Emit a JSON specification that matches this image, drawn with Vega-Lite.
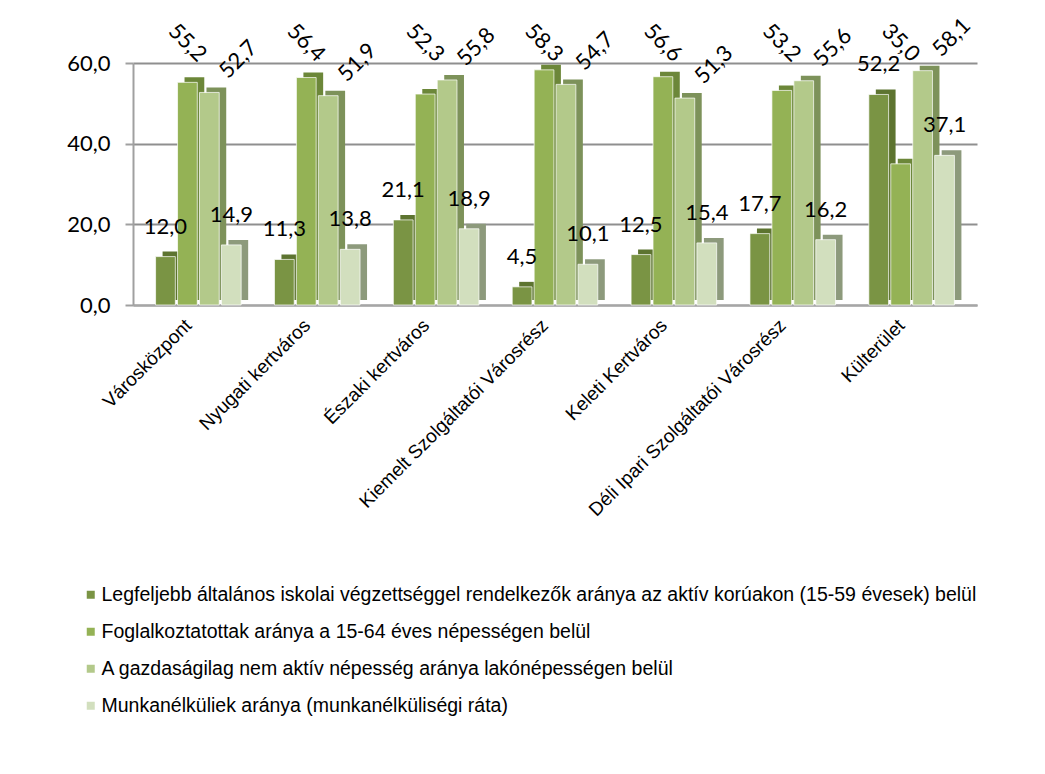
{
  "$schema": "https://vega.github.io/schema/vega-lite/v6.json",
  "autosize": "none",
  "width": 844,
  "height": 242,
  "padding": {"left": 133, "top": 63, "right": 68, "bottom": 469},
  "background": "white",
  "config": {
    "locale": {"number": {"decimal": ",", "thousands": " ", "grouping": [3], "currency": ["", " Ft"]}},
    "view": {"stroke": null},
    "font": "Lato"
  },
  "data": {
    "values": [
      {"district": "Városközpont", "series": "Legfeljebb általános iskolai végzettséggel rendelkezők aránya az aktív korúakon (15-59 évesek) belül", "value": 12.0},
      {"district": "Nyugati kertváros", "series": "Legfeljebb általános iskolai végzettséggel rendelkezők aránya az aktív korúakon (15-59 évesek) belül", "value": 11.3},
      {"district": "Északi kertváros", "series": "Legfeljebb általános iskolai végzettséggel rendelkezők aránya az aktív korúakon (15-59 évesek) belül", "value": 21.1},
      {"district": "Kiemelt Szolgáltatói Városrész", "series": "Legfeljebb általános iskolai végzettséggel rendelkezők aránya az aktív korúakon (15-59 évesek) belül", "value": 4.5},
      {"district": "Keleti Kertváros", "series": "Legfeljebb általános iskolai végzettséggel rendelkezők aránya az aktív korúakon (15-59 évesek) belül", "value": 12.5},
      {"district": "Déli Ipari Szolgáltatói Városrész", "series": "Legfeljebb általános iskolai végzettséggel rendelkezők aránya az aktív korúakon (15-59 évesek) belül", "value": 17.7},
      {"district": "Külterület", "series": "Legfeljebb általános iskolai végzettséggel rendelkezők aránya az aktív korúakon (15-59 évesek) belül", "value": 52.2},
      {"district": "Városközpont", "series": "Foglalkoztatottak aránya a 15-64 éves népességen belül", "value": 55.2},
      {"district": "Nyugati kertváros", "series": "Foglalkoztatottak aránya a 15-64 éves népességen belül", "value": 56.4},
      {"district": "Északi kertváros", "series": "Foglalkoztatottak aránya a 15-64 éves népességen belül", "value": 52.3},
      {"district": "Kiemelt Szolgáltatói Városrész", "series": "Foglalkoztatottak aránya a 15-64 éves népességen belül", "value": 58.3},
      {"district": "Keleti Kertváros", "series": "Foglalkoztatottak aránya a 15-64 éves népességen belül", "value": 56.6},
      {"district": "Déli Ipari Szolgáltatói Városrész", "series": "Foglalkoztatottak aránya a 15-64 éves népességen belül", "value": 53.2},
      {"district": "Külterület", "series": "Foglalkoztatottak aránya a 15-64 éves népességen belül", "value": 35.0},
      {"district": "Városközpont", "series": "A gazdaságilag nem aktív népesség aránya lakónépességen belül", "value": 52.7},
      {"district": "Nyugati kertváros", "series": "A gazdaságilag nem aktív népesség aránya lakónépességen belül", "value": 51.9},
      {"district": "Északi kertváros", "series": "A gazdaságilag nem aktív népesség aránya lakónépességen belül", "value": 55.8},
      {"district": "Kiemelt Szolgáltatói Városrész", "series": "A gazdaságilag nem aktív népesség aránya lakónépességen belül", "value": 54.7},
      {"district": "Keleti Kertváros", "series": "A gazdaságilag nem aktív népesség aránya lakónépességen belül", "value": 51.3},
      {"district": "Déli Ipari Szolgáltatói Városrész", "series": "A gazdaságilag nem aktív népesség aránya lakónépességen belül", "value": 55.6},
      {"district": "Külterület", "series": "A gazdaságilag nem aktív népesség aránya lakónépességen belül", "value": 58.1},
      {"district": "Városközpont", "series": "Munkanélküliek aránya (munkanélküliségi ráta)", "value": 14.9},
      {"district": "Nyugati kertváros", "series": "Munkanélküliek aránya (munkanélküliségi ráta)", "value": 13.8},
      {"district": "Északi kertváros", "series": "Munkanélküliek aránya (munkanélküliségi ráta)", "value": 18.9},
      {"district": "Kiemelt Szolgáltatói Városrész", "series": "Munkanélküliek aránya (munkanélküliségi ráta)", "value": 10.1},
      {"district": "Keleti Kertváros", "series": "Munkanélküliek aránya (munkanélküliségi ráta)", "value": 15.4},
      {"district": "Déli Ipari Szolgáltatói Városrész", "series": "Munkanélküliek aránya (munkanélküliségi ráta)", "value": 16.2},
      {"district": "Külterület", "series": "Munkanélküliek aránya (munkanélküliségi ráta)", "value": 37.1}
    ]
  },
  "encoding": {
    "xOffset": {
      "field": "series",
      "type": "nominal",
      "sort": null,
      "scale": {
        "domain": [
          "Legfeljebb általános iskolai végzettséggel rendelkezők aránya az aktív korúakon (15-59 évesek) belül",
          "Foglalkoztatottak aránya a 15-64 éves népességen belül",
          "A gazdaságilag nem aktív népesség aránya lakónépességen belül",
          "Munkanélküliek aránya (munkanélküliségi ráta)"
        ],
        "paddingInner": 0.1,
        "paddingOuter": 0
      }
    },
    "y": {
      "field": "value",
      "type": "quantitative",
      "title": null,
      "scale": {"domain": [0, 60], "nice": false},
      "axis": {
        "values": [0, 20, 40, 60],
        "format": ".1f",
        "labelFont": "Lato",
        "labelFontSize": 22,
        "labelColor": "#000000",
        "labelPadding": 15,
        "tickSize": 8,
        "tickColor": "#a0a0a0",
        "tickWidth": 2,
        "domainColor": "#a0a0a0",
        "domainWidth": 2,
        "grid": true,
        "gridColor": "#8f8f8f",
        "gridWidth": 2
      }
    }
  },
  "resolve": {"scale": {"x": "independent", "color": "independent"}, "axis": {"x": "independent"}},
  "layer": [
    {
      "mark": {"type": "bar", "yOffset": -5},
      "encoding": {
        "x": {
          "field": "district",
          "type": "nominal",
          "sort": null,
          "title": null,
          "scale": {"paddingInner": 0.28, "paddingOuter": 0.19, "align": 0.655},
          "axis": null
        },
        "color": {
          "field": "series",
          "type": "nominal",
          "sort": null,
          "legend": null,
          "scale": {
            "domain": [
              "Legfeljebb általános iskolai végzettséggel rendelkezők aránya az aktív korúakon (15-59 évesek) belül",
              "Foglalkoztatottak aránya a 15-64 éves népességen belül",
              "A gazdaságilag nem aktív népesség aránya lakónépességen belül",
              "Munkanélküliek aránya (munkanélküliségi ráta)"
            ],
            "range": ["#5d7430", "#6c8739", "#7d925a", "#8d9a7c"]
          }
        }
      }
    },
    {
      "mark": {"type": "bar", "stroke": "#ffffff", "strokeWidth": 1, "strokeOpacity": 0.7},
      "encoding": {
        "x": {
          "field": "district",
          "type": "nominal",
          "sort": null,
          "title": null,
          "scale": {"paddingInner": 0.28, "paddingOuter": 0.19},
          "axis": {
            "labelAngle": -45,
            "labelFont": "Liberation Sans",
            "labelFontSize": 19,
            "labelColor": "#000000",
            "labelBaseline": "middle",
            "labelPadding": 17,
            "labelOffset": -10,
            "labelLimit": 0,
            "ticks": false,
            "domainColor": "#a6a6a6",
            "domainWidth": 2,
            "grid": false
          }
        },
        "color": {
          "field": "series",
          "type": "nominal",
          "sort": null,
          "scale": {
            "domain": [
              "Legfeljebb általános iskolai végzettséggel rendelkezők aránya az aktív korúakon (15-59 évesek) belül",
              "Foglalkoztatottak aránya a 15-64 éves népességen belül",
              "A gazdaságilag nem aktív népesség aránya lakónépességen belül",
              "Munkanélküliek aránya (munkanélküliségi ráta)"
            ],
            "range": ["#7a9444", "#94b255", "#b3c98a", "#d2dfbe"]
          },
          "legend": {
            "title": null,
            "orient": "none",
            "legendX": -52,
            "legendY": 522,
            "direction": "vertical",
            "symbolType": "square",
            "symbolSize": 64,
            "symbolStrokeWidth": 0,
            "labelFont": "Liberation Sans",
            "labelFontSize": 19.5,
            "labelColor": "#000000",
            "labelLimit": 0,
            "labelOffset": 1,
            "rowPadding": 16
          }
        }
      }
    },
    {
      "transform": [{"filter": {"field": "series", "oneOf": ["Legfeljebb általános iskolai végzettséggel rendelkezők aránya az aktív korúakon (15-59 évesek) belül", "Munkanélküliek aránya (munkanélküliségi ráta)"]}}],
      "mark": {"type": "text", "align": "center", "baseline": "middle", "dy": -30, "fontSize": 22, "font": "Lato", "color": "#000000"},
      "encoding": {
        "x": {"field": "district", "type": "nominal", "sort": null, "title": null, "scale": {"paddingInner": 0.28, "paddingOuter": 0.19}, "axis": null},
        "text": {"field": "value", "type": "quantitative", "format": ".1f"}
      }
    },
    {
      "transform": [{"filter": {"field": "series", "equal": "Foglalkoztatottak aránya a 15-64 éves népességen belül"}}],
      "mark": {"type": "text", "align": "center", "baseline": "middle", "angle": 45, "fontSize": 22, "font": "Lato", "color": "#000000"},
      "encoding": {
        "x": {"field": "district", "type": "nominal", "sort": null, "title": null, "scale": {"paddingInner": 0.28, "paddingOuter": 0.19}, "axis": null},
        "y": {"datum": 65, "type": "quantitative"},
        "text": {"field": "value", "type": "quantitative", "format": ".1f"}
      }
    },
    {
      "transform": [{"filter": {"field": "series", "equal": "A gazdaságilag nem aktív népesség aránya lakónépességen belül"}}],
      "mark": {"type": "text", "align": "center", "baseline": "middle", "angle": -45, "dx": 44, "dy": -3, "fontSize": 22, "font": "Lato", "color": "#000000"},
      "encoding": {
        "x": {"field": "district", "type": "nominal", "sort": null, "title": null, "scale": {"paddingInner": 0.28, "paddingOuter": 0.19}, "axis": null},
        "text": {"field": "value", "type": "quantitative", "format": ".1f"}
      }
    }
  ]
}
